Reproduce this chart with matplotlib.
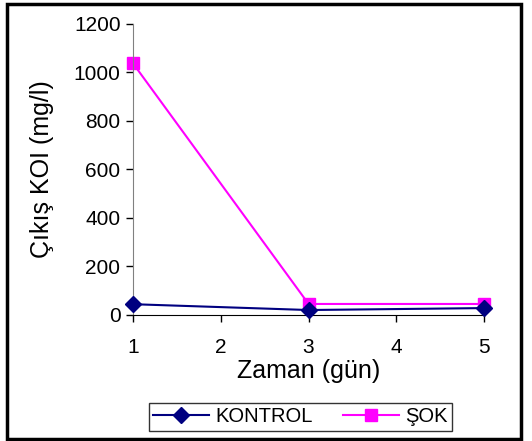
import matplotlib
matplotlib.use("Agg")
import matplotlib.pyplot as plt
from matplotlib.patches import Rectangle

# data
zaman = [1, 3, 5]
kontrol = [44, 20, 28]
sok = [1037, 45, 45]
y_ticks = [0, 200, 400, 600, 800, 1000, 1200]
x_ticks = [1, 2, 3, 4, 5]

plt.rcParams["font.family"] = ["Liberation Sans", "DejaVu Sans"]

fig = plt.figure(figsize=(5.32, 4.41), dpi=100)
ax = fig.add_axes([0.25, 0.286, 0.66, 0.66])

ax.plot(zaman, kontrol, color="#000080", marker="D", markersize=8, linewidth=1.5,
        label="KONTROL", clip_on=False, zorder=3)
ax.plot(zaman, sok, color="#ff00ff", marker="s", markersize=9, linewidth=1.5,
        label="ŞOK", clip_on=False, zorder=2)

ax.set_xlim(1, 5)
ax.set_ylim(0, 1200)
ax.set_xticks(x_ticks)
ax.set_yticks(y_ticks)
ax.tick_params(axis="both", labelsize=15, direction="out", length=5, width=1)
ax.tick_params(axis="x", pad=12)
ax.tick_params(axis="y", pad=4)
ax.spines["top"].set_visible(False)
ax.spines["right"].set_visible(False)
ax.spines["left"].set_color("#808080")

ax.set_xlabel("Zaman (gün)", fontsize=18, labelpad=1)
ax.set_ylabel("Çıkış KOI (mg/l)", fontsize=18, labelpad=14)

leg = fig.legend(loc="center", bbox_to_anchor=(300 / 532, 1 - 417 / 441), ncol=2,
                 fontsize=14.5, frameon=True, fancybox=False, edgecolor="black",
                 handlelength=2.8, handletextpad=0.3, columnspacing=1.5,
                 borderpad=0.2, borderaxespad=0)
leg.get_frame().set_linewidth(1)

fig.patches.append(Rectangle((7 / 532, 2 / 441), 514 / 532, 435 / 441, transform=fig.transFigure,
                             fill=False, edgecolor="black", linewidth=2.5))

fig.savefig("out.png", dpi=100)
